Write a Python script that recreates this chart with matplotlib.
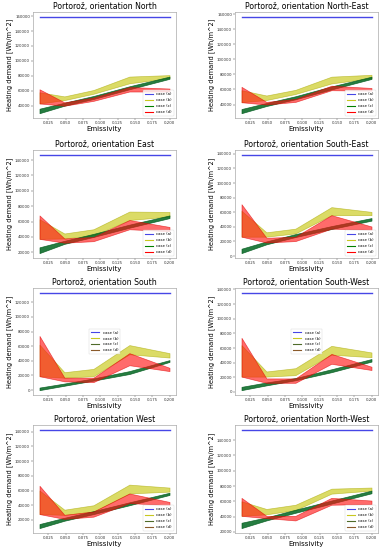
import matplotlib.pyplot as plt
from matplotlib.lines import Line2D

emissivity = [0.012, 0.048, 0.09, 0.142, 0.2]
orientations = ['North', 'North-East', 'East', 'South-East',
                'South', 'South-West', 'West', 'North-West']

# case (a): constant heating demand per orientation
case_a = [159000, 156500, 146700, 138600, 132800, 135400, 142300, 153300]

# case (b) band, in thousands of Wh/m^2
b_lo = [[43, 47.5, 56, 70, 77], [43, 46, 54, 68, 75], [37.5, 38, 42, 62, 66.5], [26.5, 26.5, 31, 56, 56],
        [19, 17, 19, 49, 44.5], [21, 21, 23, 51, 47.5], [28, 27, 31.5, 56, 58.5], [41, 43, 48.5, 70, 74]]
b_hi = [[58, 52.5, 61, 79, 81], [59, 52, 59.5, 77, 79.5], [63, 44.5, 50, 73, 72.5], [62, 32.5, 37.5, 67, 60.5],
        [62, 24.5, 29, 61.5, 50.5], [64, 28, 32.5, 63, 54], [60, 34, 40, 68, 64], [60, 50, 55.5, 76.5, 78]]
# case (c) band
c_lo = [[30, 40, 49, 62, 76], [28.5, 38, 47, 60, 74], [19, 31, 40, 52, 64.5], [4, 16, 26, 37, 48.5],
        [0, 6, 13, 22, 38.5], [2.5, 9, 16, 27, 41.5], [9, 19, 28, 40, 54], [25, 35, 45, 57, 70.5]]
c_hi = [[36, 44, 53, 66, 79], [34, 42, 51, 64, 77], [26.5, 35, 44, 56, 68], [10, 20, 30, 41, 52],
        [3.5, 9, 16, 26, 41], [7, 13, 19, 31, 45], [14.5, 23, 32, 44, 57], [32, 39, 49, 61, 74]]
# case (d) band
d_lo = [[43, 40, 46.5, 59, 59], [43, 40, 43.5, 59, 58.5], [37.5, 32.5, 34.5, 50, 47.5], [26.5, 18.5, 20.5, 37.5, 36],
        [19, 12, 11, 34, 26], [21, 12.5, 12.5, 38.5, 30], [28, 21.5, 24.5, 43, 40], [41, 38, 35, 55.5, 56.5]]
d_hi = [[62, 44.5, 51, 65, 63], [63.5, 43.5, 47.5, 65, 62], [68, 38, 40, 62, 53], [71, 25, 26.5, 56, 40.5],
        [74, 17, 17, 50.5, 30.5], [74, 18.5, 18.5, 52, 34.5], [66.5, 27, 31.5, 56, 44.5], [64.5, 41, 41, 64.5, 61]]

yticks = [[40000, 60000, 80000, 100000, 120000, 140000, 160000],
          [40000, 60000, 80000, 100000, 120000, 140000, 160000],
          [20000, 40000, 60000, 80000, 100000, 120000, 140000],
          [0, 20000, 40000, 60000, 80000, 100000, 120000, 140000],
          [0, 20000, 40000, 60000, 80000, 100000, 120000],
          [0, 20000, 40000, 60000, 80000, 100000, 120000, 140000],
          [20000, 40000, 60000, 80000, 100000, 120000, 140000],
          [20000, 40000, 60000, 80000, 100000, 120000, 140000]]
xticks = [0.025, 0.05, 0.075, 0.1, 0.125, 0.15, 0.175, 0.2]

W, H = 392, 550
fig = plt.figure(figsize=(W / 100, H / 100), dpi=100)

lefts = [33, 235]
rows = [(12, 118), (150, 258), (288, 395), (425, 533)]
aw = 143

for i, ori in enumerate(orientations):
    r, c = divmod(i, 2)
    top, bot = rows[r]
    ax = fig.add_axes([lefts[c] / W, 1 - bot / H, aw / W, (bot - top) / H])
    k = lambda v: [x * 1000 for x in v]
    south = i >= 4
    c_col = '#4f6b2a' if south else 'green'
    d_col = '#8a5a2a' if south else 'red'

    ax.plot([emissivity[0], emissivity[-1]], [case_a[i]] * 2, color='#4646e6', lw=1.0)
    ax.fill_between(emissivity, k(b_lo[i]), k(b_hi[i]), facecolor='#c4c400', alpha=0.6,
                    edgecolor='#a8a800', lw=0.5)
    ax.fill_between(emissivity, k(c_lo[i]), k(c_hi[i]), facecolor='#00661f', alpha=0.85,
                    edgecolor='#005a1c', lw=0.5)
    ax.fill_between(emissivity, k(d_lo[i]), k(d_hi[i]), facecolor='#ff1010', alpha=0.62,
                    edgecolor='#e00000', lw=0.5)

    ax.set_title('Portorož, orientation ' + ori, fontsize=5.6, pad=2)
    ax.set_xlabel('Emissivity', fontsize=5, labelpad=1)
    ax.set_ylabel('Heating demand [Wh/m^2]', fontsize=4.8, labelpad=1.5)
    ax.set_xticks(xticks)
    ax.set_xticklabels(['%.3f' % t for t in xticks])
    ax.set_yticks(yticks[i])
    ax.tick_params(labelsize=2.8, length=1.2, width=0.3, pad=1, colors='#333333')
    for s in ax.spines.values():
        s.set_color('#aaaaaa')
        s.set_linewidth(0.5)

    handles = [Line2D([], [], color='#4646e6', lw=0.8),
               Line2D([], [], color='#c8c820', lw=0.8),
               Line2D([], [], color=c_col, lw=0.8),
               Line2D([], [], color=d_col, lw=0.8)]
    loc = 'center' if i in (4, 5) else 'lower right'
    ax.legend(handles, ['case (a)', 'case (b)', 'case (c)', 'case (d)'], loc=loc,
              fontsize=2.8, handlelength=2.2, borderpad=0.5, labelspacing=0.5,
              frameon=True, framealpha=0.8, edgecolor='#cccccc').get_frame().set_linewidth(0.3)

fig.savefig('out.png', dpi=100)
